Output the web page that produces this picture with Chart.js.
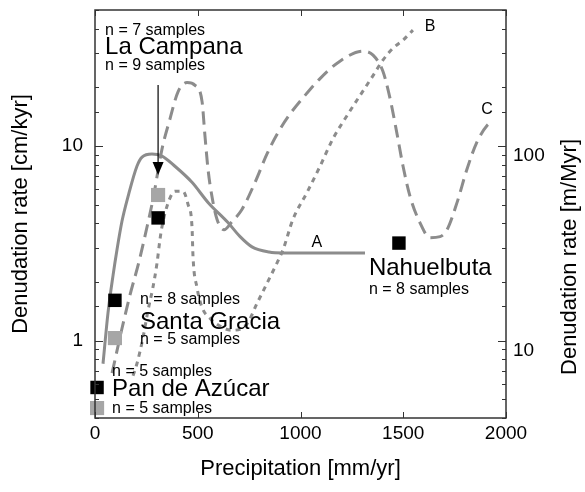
<!DOCTYPE html>
<html>
<head>
<meta charset="utf-8">
<script src="https://cdn.jsdelivr.net/npm/chart.js@4.4.1/dist/chart.umd.min.js"></script>
<style>
  body { margin: 0; background: #fff; }
  canvas { display: block; }
</style>
</head>
<body>
<canvas id="denudationChart" width="585" height="492"></canvas>
<script>
// Curve A (solid), curve B (short dashes), curve C (long dashes)
const precipA = [39, 63, 88, 107, 131, 161, 204, 229, 277, 326, 389, 472, 550, 647, 706, 764, 847, 915, 1314];
const rateA   = [0.76, 1.38, 2.17, 2.93, 4.09, 5.51, 7.87, 8.77, 9.09, 8.87, 7.87, 6.51, 5.13, 4.04, 3.42, 3.03, 2.85, 2.82, 2.82];

const precipB = [185, 204, 234, 258, 282, 302, 316, 326, 350, 389, 428, 453, 472, 477, 496, 521, 560, 618, 667, 740, 788, 837, 886, 915, 963, 1032, 1095, 1158, 1226, 1290, 1353, 1401, 1450, 1499, 1547];
const rateB   = [0.66, 0.76, 1.04, 1.43, 1.88, 2.51, 3.30, 3.85, 4.89, 5.85, 5.85, 5.0, 3.85, 2.69, 1.88, 1.48, 1.30, 1.17, 1.13, 1.22, 1.55, 1.97, 2.51, 2.93, 4.19, 5.78, 7.87, 10.9, 14.3, 18.2, 23.0, 27.6, 31.8, 35.0, 39.4];

const precipC = [83, 131, 170, 214, 248, 282, 326, 365, 404, 448, 487, 521, 535, 550, 569, 594, 628, 667, 715, 779, 837, 886, 949, 1022, 1095, 1192, 1304, 1353, 1401, 1436, 1470, 1499, 1533, 1581, 1630, 1679, 1713, 1762, 1810, 1859, 1907, 1932];
const rateC   = [0.68, 1.15, 1.71, 2.54, 3.63, 5.31, 9.64, 13.8, 19.0, 21.2, 20.5, 16.9, 11.3, 7.6, 5.51, 4.19, 3.71, 4.09, 4.72, 6.51, 9.1, 11.5, 14.6, 18.2, 22.2, 27.3, 30.7, 29.3, 24.2, 17.5, 11.5, 7.87, 5.51, 4.04, 3.38, 3.42, 3.71, 5.13, 7.6, 10.5, 12.7, 13.3];

// Field sites
const siteNames  = ['La Campana', 'Santa Gracia', 'Pan de Azúcar', 'Nahuelbuta'];
const sitePrecip = [307, 97, 10, 1479];
const rateBlack  = [4.27, 1.61, 0.574, 3.17];
const rateGray   = [5.60, 1.03, 0.45, null];

const xTicks = [0, 500, 1000, 1500, 2000];

const pairs = (xs, ys) => xs.map((v, i) => ({ x: v, y: ys[i] })).filter(p => p.y !== null);
const isPow10 = v => Math.abs(Math.log10(v) - Math.round(Math.log10(v))) < 1e-6;

// text placed on the chart, in data coordinates
const notes = [
  { text: 'n = 7 samples', x: 49, y: 39.4, size: 16, align: 'left' },
  { text: 'La Campana', x: 49, y: 32.3, size: 24, align: 'left' },
  { text: 'n = 9 samples', x: 49, y: 25.8, size: 16, align: 'left' },
  { text: 'n = 8 samples', x: 219, y: 1.62, size: 16, align: 'left' },
  { text: 'Santa Gracia', x: 219, y: 1.244, size: 24, align: 'left' },
  { text: 'n = 5 samples', x: 219, y: 1.006, size: 16, align: 'left' },
  { text: 'n = 5 samples', x: 83, y: 0.689, size: 16, align: 'left' },
  { text: 'Pan de Azúcar', x: 83, y: 0.564, size: 24, align: 'left' },
  { text: 'n = 5 samples', x: 83, y: 0.445, size: 16, align: 'left' },
  { text: 'Nahuelbuta', x: 1333, y: 2.36, size: 24, align: 'left' },
  { text: 'n = 8 samples', x: 1333, y: 1.82, size: 16, align: 'left' },
  { text: 'A', x: 1080, y: 3.17, size: 16, align: 'center' },
  { text: 'B', x: 1630, y: 40.9, size: 16, align: 'center' },
  { text: 'C', x: 1908, y: 15.3, size: 16, align: 'center' }
];

Chart.defaults.font.family = "'Liberation Sans', Arial, sans-serif";
Chart.defaults.color = '#000';

const lineColor = '#8c8c8c';

const overlay = {
  id: 'overlay',
  afterDraw(chart) {
    const { ctx, chartArea: a } = chart;
    const { x, y, y2 } = chart.scales;
    ctx.save();

    // frame
    ctx.strokeStyle = '#333';
    ctx.lineWidth = 1.5;
    ctx.strokeRect(a.left, a.top, a.right - a.left, a.bottom - a.top);

    // inward tick marks
    ctx.lineWidth = 1;
    ctx.beginPath();
    x.ticks.forEach(t => {
      const px = Math.round(x.getPixelForValue(t.value)) + 0.5;
      ctx.moveTo(px, a.bottom); ctx.lineTo(px, a.bottom - 6);
      ctx.moveTo(px, a.top); ctx.lineTo(px, a.top + 6);
    });
    y.ticks.forEach(t => {
      const py = Math.round(y.getPixelForValue(t.value)) + 0.5;
      ctx.moveTo(a.left, py); ctx.lineTo(a.left + (isPow10(t.value) ? 8 : 4), py);
    });
    y2.ticks.forEach(t => {
      const py = Math.round(y2.getPixelForValue(t.value)) + 0.5;
      ctx.moveTo(a.right, py); ctx.lineTo(a.right - (isPow10(t.value) ? 8 : 4), py);
    });
    ctx.stroke();

    // arrow to La Campana
    const ax = x.getPixelForValue(sitePrecip[0]);
    const ay0 = y.getPixelForValue(20.6);
    const ay1 = y.getPixelForValue(7.1);
    ctx.strokeStyle = '#000';
    ctx.fillStyle = '#000';
    ctx.lineWidth = 1.2;
    ctx.beginPath();
    ctx.moveTo(ax, ay0); ctx.lineTo(ax, ay1 - 10);
    ctx.stroke();
    ctx.beginPath();
    ctx.moveTo(ax, ay1);
    ctx.lineTo(ax - 5.5, ay1 - 13);
    ctx.lineTo(ax + 5.5, ay1 - 13);
    ctx.closePath();
    ctx.fill();

    // notes
    ctx.textBaseline = 'middle';
    notes.forEach(n => {
      ctx.font = n.size + "px 'Liberation Sans', Arial, sans-serif";
      ctx.textAlign = n.align;
      ctx.fillText(n.text, x.getPixelForValue(n.x), y.getPixelForValue(n.y));
    });

    // right axis title, reading bottom to top
    ctx.translate(570, 257);
    ctx.rotate(-Math.PI / 2);
    ctx.textAlign = 'center';
    ctx.font = "22px 'Liberation Sans', Arial, sans-serif";
    ctx.fillText('Denudation rate [m/Myr]', 0, 0);
    ctx.restore();
  }
};

const fitY = w => s => { s.width = w; s.paddingTop = 0; s.paddingBottom = 0; };

new Chart(document.getElementById('denudationChart'), {
  type: 'scatter',
  data: {
    datasets: [
      {
        label: 'black',
        data: pairs(sitePrecip, rateBlack),
        pointStyle: 'rect',
        pointRadius: 9.5,
        backgroundColor: '#000',
        borderWidth: 0,
        clip: false
      },
      {
        label: 'gray',
        data: pairs(sitePrecip, rateGray),
        pointStyle: 'rect',
        pointRadius: 10,
        backgroundColor: '#a6a6a6',
        borderWidth: 0,
        clip: false
      },
      {
        label: 'A',
        data: pairs(precipA, rateA),
        showLine: true,
        pointRadius: 0,
        borderColor: lineColor,
        borderWidth: 3,
        cubicInterpolationMode: 'monotone'
      },
      {
        label: 'B',
        data: pairs(precipB, rateB),
        showLine: true,
        pointRadius: 0,
        borderColor: lineColor,
        borderWidth: 3,
        borderDash: [5, 5],
        cubicInterpolationMode: 'monotone'
      },
      {
        label: 'C',
        data: pairs(precipC, rateC),
        showLine: true,
        pointRadius: 0,
        borderColor: lineColor,
        borderWidth: 3,
        borderDash: [13, 7],
        cubicInterpolationMode: 'monotone'
      }
    ]
  },
  options: {
    responsive: false,
    animation: false,
    layout: { padding: { top: 10 } },
    plugins: {
      legend: { display: false },
      tooltip: { enabled: false }
    },
    scales: {
      x: {
        type: 'linear',
        min: 0,
        max: 2000,
        afterBuildTicks: s => { s.ticks = xTicks.map(v => ({ value: v })); },
        ticks: { padding: 4, font: { size: 19 }, callback: v => String(v) },
        grid: { display: false, drawTicks: false },
        border: { display: false },
        title: { display: true, text: 'Precipitation [mm/yr]', font: { size: 22 }, padding: { bottom: 10 } },
        afterFit: s => { s.height = 74; s.paddingLeft = 0; s.paddingRight = 0; }
      },
      y: {
        type: 'logarithmic',
        position: 'left',
        min: 0.4,
        max: 50,
        ticks: { autoSkip: false, padding: 12, font: { size: 19 }, callback: v => isPow10(v) ? String(v) : '' },
        grid: { display: false, drawTicks: false },
        border: { display: false },
        title: { display: true, text: 'Denudation rate [cm/kyr]', font: { size: 22 }, padding: { top: 8 } },
        afterFit: fitY(95)
      },
      y2: {
        type: 'logarithmic',
        position: 'right',
        min: 4,
        max: 500,
        ticks: { autoSkip: false, padding: 7, labelOffset: 10, font: { size: 19 }, callback: v => isPow10(v) ? String(v) : '' },
        grid: { display: false, drawTicks: false },
        border: { display: false },
        afterFit: fitY(79)
      }
    }
  },
  plugins: [overlay]
});
</script>
</body>
</html>
